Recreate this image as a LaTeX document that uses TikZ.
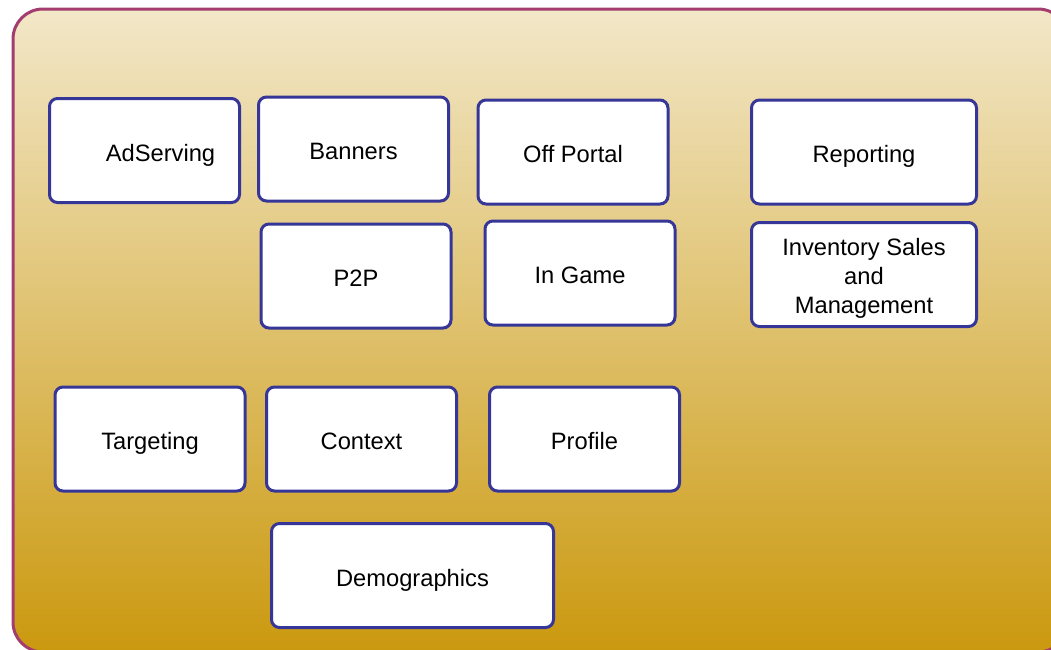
\documentclass[tikz,border=0pt]{standalone}
\usepackage{fontspec}
\setmainfont{Liberation Sans}
\usepackage{tikz}

\definecolor{boxblue}{HTML}{363698}
\definecolor{framered}{HTML}{A33D6F}
\definecolor{sandtop}{HTML}{F2E7C8}
\definecolor{sandbot}{HTML}{CB990F}

\begin{document}
\begin{tikzpicture}[x=1pt,y=-1pt,
  tile/.style={draw=boxblue,line width=3pt,rounded corners=8pt,fill=white,
    minimum width=190pt,minimum height=104pt,inner sep=0pt,align=center,
    font=\fontsize{23.7}{29}\selectfont},
  oneline/.style={tile,text height=24pt,text depth=3pt},
  widetile/.style={tile,minimum width=225pt}]
\useasboundingbox (0,0) rectangle (1051,649);
\draw[draw=framered,line width=3pt,rounded corners=30pt,top color=sandtop,bottom color=sandbot]
  (13,9) rectangle (1068,652);

  \node[oneline]   (adserving)    at (144.5,150.5) {\hspace*{32pt}AdServing};
  \node[oneline]   (banners)      at (353.5,149)   {Banners};
  \node[oneline]   (offportal)    at (573,152)     {Off Portal};
  \node[oneline,widetile] (reporting) at (864,152) {Reporting};
  \node[oneline]   (ptwop)        at (356,276)     {P2P};
  \node[oneline]   (ingame)       at (580,273)     {In Game};
  \node[widetile]  (inventory)    at (864,274.5)   {\rule{0pt}{25pt}Inventory Sales\\and\\Management};
  \node[oneline]   (targeting)    at (150,439)     {Targeting};
  \node[oneline]   (context)      at (361.5,439)   {Context};
  \node[oneline]   (profile)      at (584.5,439)   {Profile};
  \node[oneline,minimum width=282pt] (demographics) at (412.5,575.5) {Demographics};
\end{tikzpicture}
\end{document}
